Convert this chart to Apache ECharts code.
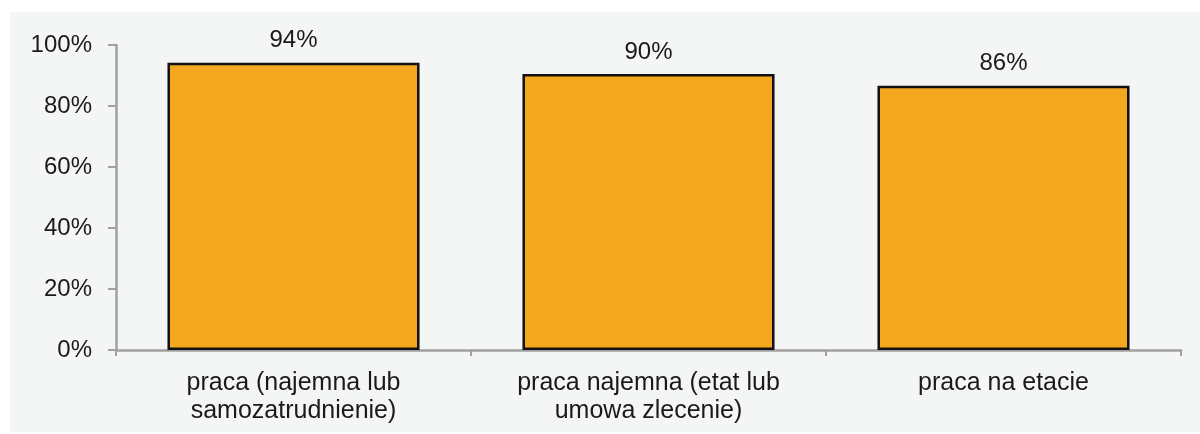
<!DOCTYPE html>
<html>
<head>
<meta charset="utf-8">
<script src="https://cdn.jsdelivr.net/npm/echarts@6/dist/echarts.min.js"></script>
<style>
html,body{margin:0;padding:0;background:#ffffff;}
#panel{position:absolute;left:10px;top:12px;width:1190px;height:420px;background:#f4f5f5;}
#chart{position:absolute;left:0;top:0;width:1200px;height:434px;}
</style>
</head>
<body>
<div id="panel"></div>
<div id="chart"></div>
<script>
const categories = ['praca (najemna lub\nsamozatrudnienie)', 'praca najemna (etat lub\numowa zlecenie)', 'praca na etacie'];
const values = [94.2, 90.5, 86.6];
const valueLabels = ['94%', '90%', '86%'];
const yTicks = [0, 20, 40, 60, 80, 100];

const chart = echarts.init(document.getElementById('chart'), null, {renderer: 'canvas'});
const font = 'Liberation Sans, Arial, sans-serif';
chart.setOption({
  backgroundColor: 'transparent',
  animation: false,
  grid: {left: 116, right: 19, top: 45, bottom: 84},
  xAxis: {
    type: 'category',
    data: categories,
    axisLine: {lineStyle: {color: '#a0a0a0', width: 2.5}},
    axisTick: {show: true, length: 6, lineStyle: {color: '#a0a0a0', width: 2}, alignWithLabel: false},
    axisLabel: {color: '#1a1a1a', fontSize: 25, fontFamily: font, lineHeight: 28, margin: 19, interval: 0}
  },
  yAxis: {
    type: 'value',
    min: yTicks[0],
    max: yTicks[yTicks.length - 1],
    interval: 20,
    splitLine: {show: false},
    axisLine: {show: true, lineStyle: {color: '#a0a0a0', width: 2.5}},
    axisTick: {show: true, length: 8, lineStyle: {color: '#a0a0a0', width: 2}},
    axisLabel: {color: '#1a1a1a', fontSize: 24, fontFamily: font, margin: 24, formatter: v => v + '%'}
  },
  series: [{
    type: 'bar',
    data: values,
    barWidth: '71%',
    itemStyle: {color: '#f5a720', borderColor: '#111111', borderWidth: 2.5},
    label: {
      show: true,
      position: 'top',
      distance: 10,
      color: '#1a1a1a',
      fontSize: 24,
      fontFamily: font,
      formatter: p => valueLabels[p.dataIndex]
    }
  }]
});
</script>
</body>
</html>
